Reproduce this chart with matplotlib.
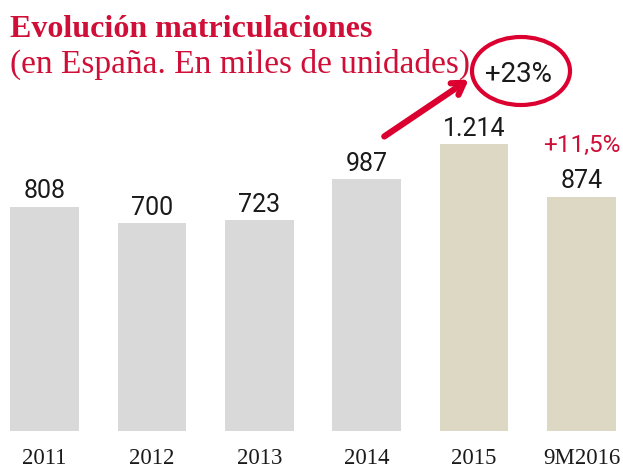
import matplotlib
matplotlib.use("Agg")
import matplotlib.pyplot as plt
from matplotlib.patches import Ellipse
import numpy as np

# Data
years = ["2011", "2012", "2013", "2014", "2015", "9M2016"]
units = [808, 700, 723, 987, 1214, 874]
value_labels = ["808", "700", "723", "987", "1.214", "874"]
highlight = [False, False, False, False, True, True]

title = "Evolución matriculaciones"
subtitle = "(en España. En miles de unidades)"
growth_2015 = "+23%"
growth_2016 = "+11,5%"

RED = "#cf0f38"
ARROW_RED = "#db0030"
GRAY = "#d9d9d9"
BEIGE = "#ddd8c3"
TXT = "#1a1a1a"

fig = plt.figure(figsize=(6.23, 4.71), dpi=100)
W, H = 623, 471

# bars sit on a shifted baseline, like the original graphic
base = -648
ax = fig.add_axes([0, 40 / H, 1, 431 / H])
x = np.arange(len(years))
colors = [BEIGE if h else GRAY for h in highlight]
ax.bar(x, np.array(units) - base, bottom=base, width=0.64, color=colors)
ax.set_xlim(-0.414, 5.386)
ax.set_ylim(base, base + 431 / 0.154)

for xi, v, lab in zip(x, units, value_labels):
    ax.annotate(lab, (xi, v), xytext=(0, 6), textcoords="offset points",
                ha="center", va="baseline", fontsize=18,
                family="Roboto", color=TXT)

ax.set_xticks(x)
ax.set_xticklabels(years, family="Liberation Serif", fontsize=16.5, color=TXT)
ax.tick_params(axis="x", length=0, pad=12)
ax.set_yticks([])
for s in ax.spines.values():
    s.set_visible(False)
ax.patch.set_alpha(0)

# titles
fig.text(10 / W, 1 - 37 / H, title, fontsize=23, fontweight="bold",
         family="Liberation Serif", color=RED, ha="left", va="baseline")
fig.text(10 / W, 1 - 73 / H, subtitle, fontsize=24,
         family="Liberation Serif", color=RED, ha="left", va="baseline")

# +23% callout
ell = Ellipse((521 / W, 1 - 71 / H), 98 / W, 68 / H, transform=fig.transFigure,
              fill=False, edgecolor=ARROW_RED, linewidth=3)
fig.add_artist(ell)
fig.text(518 / W, 1 - 74 / H, growth_2015, fontsize=20,
         family="Roboto", color=TXT, ha="center", va="center")
ax.annotate("", xy=(471 / W, 1 - 78 / H), xytext=(382 / W, 1 - 138 / H),
            xycoords="figure fraction", textcoords="figure fraction",
            arrowprops=dict(arrowstyle="->,head_length=0.8,head_width=0.5",
                            color=ARROW_RED, lw=4.5))

ax.annotate(growth_2016, (x[-1], units[-1]), xytext=(0, 32),
            textcoords="offset points", ha="center", va="baseline",
            fontsize=17.5, family="Roboto", color=RED)

fig.savefig("out.png", dpi=100)
